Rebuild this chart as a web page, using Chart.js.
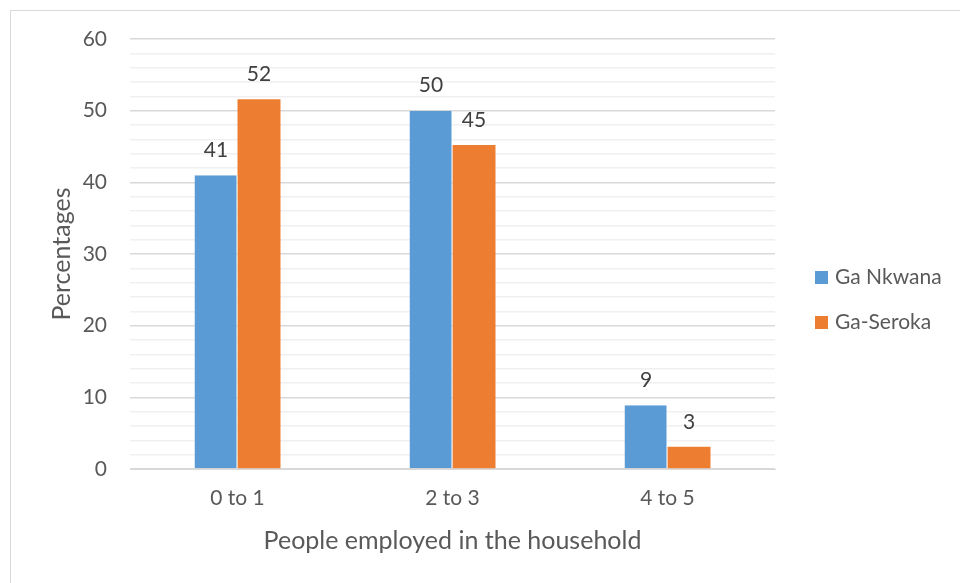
<!DOCTYPE html>
<html>
<head>
<meta charset="utf-8">
<script src="https://cdn.jsdelivr.net/npm/chart.js@4/dist/chart.umd.min.js"></script>
<style>
    html, body { margin: 0; padding: 0; background: #fff; }
    #wrap { position: relative; width: 960px; height: 583px; }
</style>
</head>
<body>
<div id="wrap"><canvas id="employedChart" width="960" height="583"></canvas></div>
<script>
const categories = ["0 to 1", "2 to 3", "4 to 5"];
const gaNkwana = [41, 50, 8.9];
const gaSeroka = [51.6, 45.2, 3.1];
const yTicks = [0, 10, 20, 30, 40, 50, 60];

const FONT = 'Lato, "Open Sans", sans-serif';
const TEXT = '#595959';

/* frame round the chart */
const framePlugin = {
    id: 'frame',
    beforeDraw(chart) {
        const c = chart.ctx;
        c.save();
        c.fillStyle = '#fff';
        c.fillRect(0, 0, chart.width, chart.height);
        c.strokeStyle = '#d9d9d9';
        c.lineWidth = 1;
        c.strokeRect(10.5, 10.5, chart.width + 20, chart.height + 20);
        c.restore();
    }
};

/* values above the bars */
const valueLabels = {
    id: 'valueLabels',
    afterDatasetsDraw(chart) {
        const c = chart.ctx;
        c.save();
        c.font = '21px ' + FONT;
        c.fillStyle = '#404040';
        c.textAlign = 'center';
        c.textBaseline = 'middle';
        chart.data.datasets.forEach((ds, i) => {
            chart.getDatasetMeta(i).data.forEach((bar, j) => {
                c.fillText(Math.round(ds.data[j]), bar.x, bar.y - 25);
            });
        });
        c.restore();
    }
};

/* legend on the right, drawn by hand so spacing matches */
const sideLegend = {
    id: 'sideLegend',
    afterDraw(chart) {
        const c = chart.ctx;
        const x = chart.chartArea.right + 40;
        const y0 = chart.height / 2 - 14;
        c.save();
        c.font = '21px ' + FONT;
        c.textBaseline = 'middle';
        chart.data.datasets.forEach((ds, i) => {
            const y = y0 + i * 45;
            c.fillStyle = ds.backgroundColor;
            c.fillRect(x, y - 6.5, 13, 13);
            c.fillStyle = TEXT;
            c.fillText(ds.label, x + 20, y);
        });
        c.restore();
    }
};

const ctx = document.getElementById('employedChart').getContext('2d');

new Chart(ctx, {
    type: 'bar',
    data: {
        labels: categories,
        datasets: [{
            label: 'Ga Nkwana',
            data: gaNkwana,
            backgroundColor: '#5b9bd5',
            borderColor: '#ffffff',
            borderWidth: { left: 0, right: 1, top: 0, bottom: 0 }
        }, {
            label: 'Ga-Seroka',
            data: gaSeroka,
            backgroundColor: '#ed7d31',
            borderWidth: 0
        }]
    },
    options: {
        responsive: false,
        animation: false,
        datasets: {
            bar: { categoryPercentage: 0.4, barPercentage: 1 }
        },
        layout: {
            padding: { left: 47, right: 185, top: 39, bottom: 27 }
        },
        plugins: {
            legend: { display: false },
            tooltip: { enabled: false }
        },
        scales: {
            x: {
                afterFit: (scale) => { scale.height = 87; },
                grid: { display: false, drawTicks: false },
                border: { color: '#d9d9d9', width: 1 },
                ticks: {
                    padding: 17,
                    color: TEXT,
                    font: { size: 21, family: FONT }
                },
                title: {
                    display: true,
                    text: 'People employed in the household',
                    color: TEXT,
                    padding: { top: 17, bottom: 0 },
                    font: { size: 25, family: FONT }
                }
            },
            y: {
                min: 0,
                max: 60,
                afterFit: (scale) => { scale.width = 83; },
                grid: {
                    drawTicks: false,
                    color: (c) => yTicks.includes(c.tick.value) ? '#d9d9d9' : '#f0f0f0',
                    lineWidth: 1.5
                },
                border: { display: false },
                ticks: {
                    stepSize: 2,
                    padding: 23,
                    autoSkip: false,
                    color: TEXT,
                    font: { size: 21, family: FONT },
                    callback: (v) => yTicks.includes(v) ? v : ''
                },
                title: {
                    display: true,
                    text: 'Percentages',
                    color: TEXT,
                    padding: { top: 0, bottom: 8 },
                    font: { size: 25, family: FONT }
                }
            }
        }
    },
    plugins: [framePlugin, valueLabels, sideLegend]
});
</script>
</body>
</html>
